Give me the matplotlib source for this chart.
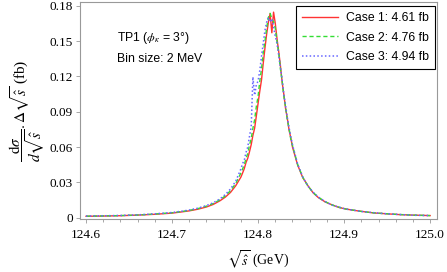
import numpy as np
import matplotlib
matplotlib.use("Agg")
import matplotlib.pyplot as plt
from matplotlib.ticker import MultipleLocator, FuncFormatter

plt.rcParams['mathtext.fontset'] = 'stix'

# bin centres (GeV), denser where the peak is
sqrt_s = [124.600, 124.620, 124.640, 124.660, 124.680, 124.700, 124.710, 124.720, 124.730, 124.740,
          124.748, 124.756, 124.762, 124.768, 124.774,
          124.780, 124.782, 124.784, 124.786, 124.788, 124.790, 124.792, 124.794, 124.796, 124.798,
          124.800, 124.802, 124.804, 124.806, 124.808, 124.810, 124.812, 124.814, 124.816, 124.818,
          124.820, 124.822, 124.824, 124.826, 124.828, 124.830, 124.832, 124.834, 124.836, 124.838,
          124.840,
          124.846, 124.852, 124.858, 124.864, 124.870, 124.878, 124.886, 124.894, 124.902, 124.910,
          124.920, 124.935, 124.950, 124.965, 124.980, 125.000]

case1 = [0.0013, 0.0015, 0.0018, 0.0023, 0.0030, 0.0040, 0.0049, 0.0059, 0.0073, 0.0092,
         0.0114, 0.0146, 0.0176, 0.0216, 0.0272,
         0.0345, 0.0380, 0.0418, 0.0470, 0.0505, 0.0560, 0.0620, 0.0700, 0.0760, 0.0865,
         0.0970, 0.1075, 0.1170, 0.1310, 0.1440, 0.1560, 0.1660, 0.1732, 0.1570, 0.1745,
         0.1650, 0.1520, 0.1410, 0.1290, 0.1150, 0.1045, 0.0925, 0.0845, 0.0745, 0.0680,
         0.0600,
         0.0448, 0.0340, 0.0272, 0.0212, 0.0172, 0.0135, 0.0110, 0.0088, 0.0075, 0.0065,
         0.0055, 0.0041, 0.0034, 0.0027, 0.0023, 0.0019]

case2 = [0.0014, 0.0016, 0.0019, 0.0024, 0.0032, 0.0043, 0.0052, 0.0063, 0.0078, 0.0099,
         0.0122, 0.0154, 0.0187, 0.0231, 0.0291,
         0.0380, 0.0415, 0.0450, 0.0505, 0.0545, 0.0618, 0.0670, 0.0760, 0.0832, 0.0945,
         0.1030, 0.1160, 0.1262, 0.1400, 0.1498, 0.1612, 0.1700, 0.1735, 0.1690, 0.1665,
         0.1610, 0.1495, 0.1400, 0.1262, 0.1160, 0.1030, 0.0940, 0.0830, 0.0760, 0.0668,
         0.0615,
         0.0452, 0.0344, 0.0269, 0.0215, 0.0175, 0.0137, 0.0109, 0.0090, 0.0074, 0.0066,
         0.0054, 0.0042, 0.0034, 0.0028, 0.0023, 0.0019]

case3 = [0.0015, 0.0017, 0.0020, 0.0025, 0.0034, 0.0045, 0.0055, 0.0066, 0.0082, 0.0104,
         0.0128, 0.0162, 0.0198, 0.0245, 0.0310,
         0.0415, 0.0460, 0.0490, 0.0555, 0.0600, 0.0690, 0.0770, 0.1195, 0.1040, 0.1130,
         0.1160, 0.1250, 0.1370, 0.1480, 0.1590, 0.1660, 0.1700, 0.1660, 0.1690, 0.1620,
         0.1540, 0.1480, 0.1380, 0.1275, 0.1170, 0.1045, 0.0950, 0.0850, 0.0765, 0.0690,
         0.0620,
         0.0455, 0.0346, 0.0268, 0.0217, 0.0176, 0.0138, 0.0108, 0.0091, 0.0074, 0.0066,
         0.0054, 0.0043, 0.0034, 0.0028, 0.0022, 0.0019]

labels = ["Case 1: 4.61 fb", "Case 2: 4.76 fb", "Case 3: 4.94 fb"]

fig = plt.figure(figsize=(4.47, 2.72), dpi=100)
ax = fig.add_axes([80/447, 53/272, 357/447, 217/272])

ax.plot(sqrt_s, case1, color='#ff3333', lw=1.0, ls='-', label=labels[0])
ax.plot(sqrt_s, case2, color='#33dd33', lw=1.0, ls=(0, (3, 2)), label=labels[1])
ax.plot(sqrt_s, case3, color='#6666ff', lw=1.1, ls=(0, (1, 1.5)), label=labels[2])

ax.set_xlim(124.593, 125.008)
ax.set_ylim(-0.001, 0.1831)
ax.xaxis.set_major_locator(MultipleLocator(0.1))
ax.xaxis.set_minor_locator(MultipleLocator(0.02))
ax.yaxis.set_major_locator(MultipleLocator(0.03))
ax.xaxis.set_major_formatter(FuncFormatter(lambda v, p: "%.1f" % v))
ax.yaxis.set_major_formatter(FuncFormatter(lambda v, p: "0" if abs(v) < 1e-9 else "%.2f" % v))

for s in ax.spines.values():
    s.set_color('#999999')
    s.set_linewidth(0.8)
ax.tick_params(which='both', direction='out', color='#999999', width=0.6)
ax.tick_params(which='major', length=3, labelsize=9.5)
ax.tick_params(which='minor', length=2)
ax.tick_params(axis='x', pad=4)
ax.tick_params(axis='y', pad=2)
for t in ax.get_xticklabels() + ax.get_yticklabels():
    t.set_fontfamily('Liberation Serif')

ax.set_xlabel(r'$\sqrt{\hat{s}}$ (GeV)', fontsize=10, family='Liberation Serif', labelpad=6)
ax.set_ylabel(r'$\dfrac{\mathrm{d}\sigma}{d\sqrt{\hat{s}}}.\Delta\sqrt{\hat{s}}$ (fb)',
              fontsize=11, family='Liberation Serif', labelpad=2)

ax.text(0.104, 0.834, r'TP1 ($\phi_\kappa$ = 3°)', transform=ax.transAxes,
        fontsize=8.8, family='Liberation Sans', va='center')
ax.text(0.104, 0.737, 'Bin size: 2 MeV', transform=ax.transAxes,
        fontsize=8.8, family='Liberation Sans', va='center')

leg = ax.legend(loc='upper right', bbox_to_anchor=(0.994, 0.982), borderaxespad=0,
                fancybox=False, framealpha=1, edgecolor='black', handlelength=3.0,
                handletextpad=0.6, labelspacing=0.62, borderpad=0.5,
                prop={'family': 'Liberation Sans', 'size': 8.8})
leg.get_frame().set_linewidth(0.8)

fig.savefig("out.png", dpi=100)
